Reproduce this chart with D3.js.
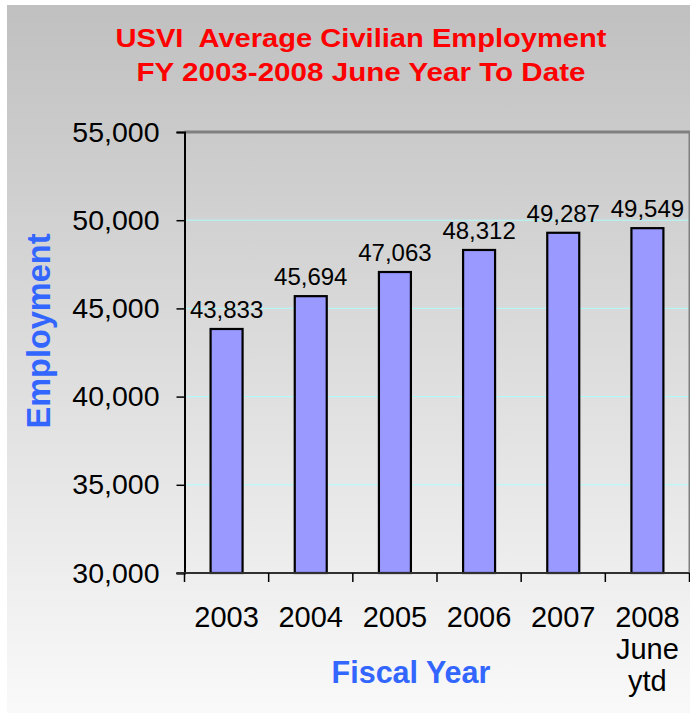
<!DOCTYPE html>
<html>
<head>
<meta charset="utf-8">
<script src="https://cdn.jsdelivr.net/npm/d3@7"></script>
<style>
  html, body { margin: 0; padding: 0; background: #fff; }
  svg { display: block; }
  text { font-family: "Liberation Sans", Arial, sans-serif; }
</style>
</head>
<body>
<svg id="chart" width="690" height="713"></svg>
<script>
// Fiscal years and average civilian employment
const years = ["2003", "2004", "2005", "2006", "2007", "2008"];
const yearSubLabels = [[], [], [], [], [], ["June", "ytd"]];
const employment = [43833, 45694, 47063, 48312, 49287, 49549];
const yTicks = [30000, 35000, 40000, 45000, 50000, 55000];
const gridTicks = [35000, 40000, 45000, 50000];
const titleLines = ["USVI  Average Civilian Employment", "FY 2003-2008 June Year To Date"];

const svg = d3.select("#chart");

// background panel with vertical grey gradient
const defs = svg.append("defs");
const grad = defs.append("linearGradient")
  .attr("id", "bg").attr("x1", 0).attr("y1", 0).attr("x2", 0).attr("y2", 1);
grad.append("stop").attr("offset", "0%").attr("stop-color", "#c0c0c0");
grad.append("stop").attr("offset", "100%").attr("stop-color", "#f9f9f9");

svg.append("rect")
  .attr("x", 7).attr("y", 5).attr("width", 683).attr("height", 708)
  .attr("fill", "url(#bg)");

// plot geometry
const plotLeft = 184.5, plotRight = 689.5, plotTop = 132, plotBottom = 573;

const x = d3.scaleBand().domain(years).range([plotLeft, plotRight])
  .paddingInner(0.62).paddingOuter(0.31);
const y = d3.scaleLinear().domain([30000, 55000]).range([plotBottom, plotTop]);

// grid lines
svg.append("g").selectAll("line").data(gridTicks).join("line")
  .attr("x1", plotLeft).attr("x2", plotRight)
  .attr("y1", d => y(d)).attr("y2", d => y(d))
  .attr("stroke", "#aefcfc").attr("stroke-width", 1);

// plot area frame: top and right edges
svg.append("line").attr("x1", plotLeft).attr("x2", plotRight + 1)
  .attr("y1", y(55000)).attr("y2", y(55000))
  .attr("stroke", "#808080").attr("stroke-width", 3);
svg.append("line").attr("x1", plotRight).attr("x2", plotRight)
  .attr("y1", y(55000)).attr("y2", plotBottom)
  .attr("stroke", "#808080").attr("stroke-width", 2);

// bars
svg.append("g").selectAll("rect").data(years).join("rect")
  .attr("x", d => x(d))
  .attr("y", (d, i) => y(employment[i]))
  .attr("width", x.bandwidth())
  .attr("height", (d, i) => plotBottom - y(employment[i]))
  .attr("fill", "#9999ff")
  .attr("stroke", "#000").attr("stroke-width", 2.2);

// value labels
const fmt = d3.format(",");
svg.append("g").selectAll("text").data(years).join("text")
  .attr("x", d => x(d) + x.bandwidth() / 2)
  .attr("y", (d, i) => y(employment[i]) - 11)
  .attr("text-anchor", "middle")
  .attr("font-size", 24)
  .attr("fill", "#000")
  .text((d, i) => fmt(employment[i]));

// y axis
const yAxis = svg.append("g")
  .attr("transform", `translate(${plotLeft},0)`)
  .call(d3.axisLeft(y).tickValues(yTicks).tickFormat(fmt).tickSize(8).tickPadding(17));
yAxis.select(".domain").attr("stroke", "#000").attr("stroke-width", 2);
yAxis.selectAll(".tick line").attr("stroke", "#000").attr("stroke-width", 1.5);
yAxis.selectAll(".tick text")
  .attr("font-size", 28.5).attr("fill", "#000")
  .style("font-family", "'Liberation Sans', Arial, sans-serif");

// x axis: line with tick marks on category boundaries
const step = x.step();
const boundaries = d3.range(years.length + 1).map(i => plotLeft + i * step);
svg.append("line").attr("x1", plotLeft - 8).attr("x2", plotRight)
  .attr("y1", plotBottom).attr("y2", plotBottom)
  .attr("stroke", "#303030").attr("stroke-width", 2);
svg.append("g").selectAll("line").data(boundaries).join("line")
  .attr("x1", d => d).attr("x2", d => d)
  .attr("y1", plotBottom).attr("y2", plotBottom + 9)
  .attr("stroke", "#000").attr("stroke-width", 1.5);

// category labels
const xl = svg.append("g").selectAll("text").data(years).join("text")
  .attr("x", d => x(d) + x.bandwidth() / 2)
  .attr("y", 627)
  .attr("text-anchor", "middle")
  .attr("font-size", 29)
  .attr("fill", "#000");
xl.each(function(d, i) {
  const t = d3.select(this);
  const cx = x(d) + x.bandwidth() / 2;
  t.append("tspan").attr("x", cx).text(d);
  yearSubLabels[i].forEach(s => t.append("tspan").attr("x", cx).attr("dy", 32).text(s));
});

// axis titles
svg.append("text")
  .attr("x", 411).attr("y", 683)
  .attr("text-anchor", "middle")
  .attr("font-size", 30.5).attr("font-weight", "bold")
  .attr("fill", "#3366ff")
  .text("Fiscal Year");

svg.append("text")
  .attr("transform", "translate(50,331) rotate(-90)")
  .attr("text-anchor", "middle")
  .attr("font-size", 32.5).attr("font-weight", "bold")
  .attr("fill", "#3366ff")
  .text("Employment");

// chart title (keeps the double space after "USVI")
const titleW = [491, 449];
const titleY = [46.7, 81];
svg.append("g").selectAll("text").data(titleLines).join("text")
  .attr("x", 361).attr("y", (d, i) => titleY[i])
  .attr("text-anchor", "middle")
  .attr("font-size", 26).attr("font-weight", "bold")
  .attr("fill", "#ff0000")
  .style("white-space", "pre")
  .attr("textLength", (d, i) => titleW[i])
  .attr("lengthAdjust", "spacingAndGlyphs")
  .text(d => d);
</script>
</body>
</html>
